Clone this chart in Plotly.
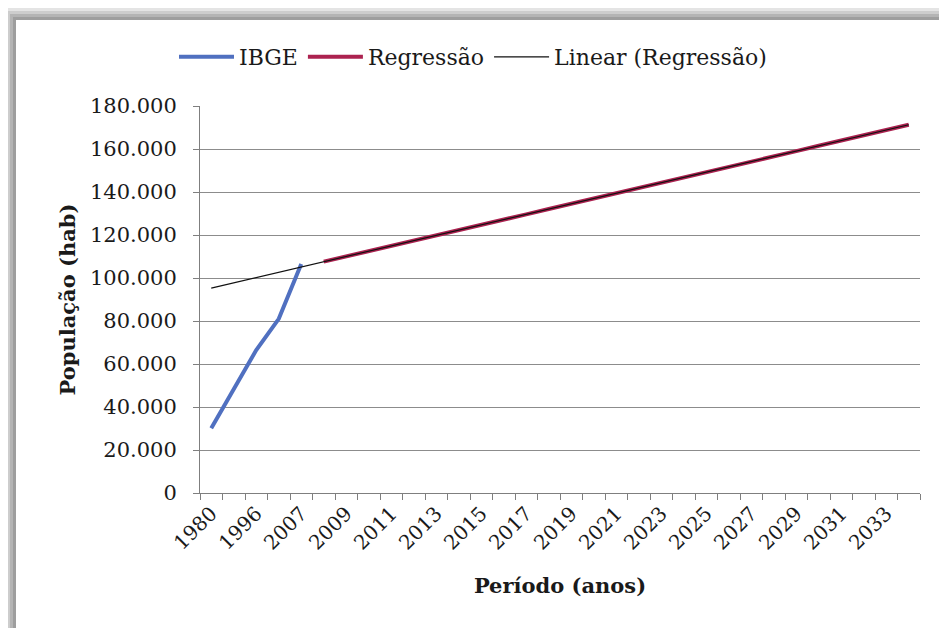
import numpy as np
import plotly.graph_objects as go

# category axis of the Excel chart (census years, then yearly projection)
years = ["1980", "1991", "1996", "2000", "2007"] + [str(y) for y in range(2008, 2035)]

ibge_years = ["1980", "1991", "1996", "2000", "2007"]
ibge_pop = [30100, 48200, 66500, 81000, 106500]

reg_years = [str(y) for y in range(2008, 2035)]
reg_pop = [107600, 110000, 112500, 114900, 117400, 119800, 122300, 124700,
           127200, 129600, 132100, 134500, 137000, 139400, 141900, 144300,
           146800, 149200, 151700, 154100, 156600, 159000, 161500, 163900,
           166400, 168800, 171300]

tick_labels = years[::2]

pos = {y: i for i, y in enumerate(years)}
ibge_x = [pos[y] for y in ibge_years]
reg_x = [pos[y] for y in reg_years]

# Excel linear trendline of the Regressão series, extended over all categories
slope, icpt = np.polyfit(reg_x, reg_pop, 1)
all_x = list(range(len(years)))
trend = [slope * x + icpt for x in all_x]

# the page body adds an 8px offset, so the figure is 8px smaller and shifted
W, H = 939, 620
L, R, T, B = 192, 27, 98, 135
PW, PH = W - L - R, H - T - B


def px_x(v):
    return (v - L) / PW


def px_y(v):
    return (H - B - v) / PH


fig = go.Figure()
fig.add_trace(go.Scatter(x=ibge_x, y=ibge_pop, mode="lines", name="IBGE",
                         line=dict(color="#5070C0", width=4)))
fig.add_trace(go.Scatter(x=reg_x, y=reg_pop, mode="lines", name="Regressão",
                         line=dict(color="#AC2250", width=4)))
fig.add_trace(go.Scatter(x=all_x, y=trend, mode="lines", name="Linear (Regressão)",
                         line=dict(color="#111111", width=1.2)))

# grey shadow frame (top and left)
shapes = []
greys = ["#e4e4e4", "#cdcdcd", "#b4b4b4", "#9e9e9e"]
for i, c in enumerate(greys):
    shapes.append(dict(type="rect", xref="paper", yref="paper", layer="below",
                       x0=px_x(0), x1=px_x(W), y0=px_y(3 * i), y1=px_y(3 + 3 * i),
                       fillcolor=c, line=dict(width=0)))
for i, c in enumerate(greys):
    shapes.append(dict(type="rect", xref="paper", yref="paper", layer="below",
                       x0=px_x(max(0, -4 + 3 * i)), x1=px_x(-1 + 3 * i), y0=px_y(H), y1=px_y(3 * i),
                       fillcolor=c, line=dict(width=0)))

font = "DejaVu Serif"
fig.update_layout(
    width=W, height=H,
    margin=dict(l=L, r=R, t=T, b=B, autoexpand=False),
    paper_bgcolor="white", plot_bgcolor="white",
    font=dict(family=font, size=21, color="#1a1a1a"),
    separators=",.",
    showlegend=True,
    legend=dict(orientation="h", x=px_x(166), xanchor="left", y=px_y(49), yanchor="middle",
                font=dict(family=font, size=22), itemwidth=55, tracegroupgap=0),
    shapes=shapes,
    xaxis=dict(
        range=[-0.5, len(years) - 0.5],
        tickmode="array", tickvals=all_x[::2], ticktext=tick_labels,
        tickangle=-45, ticks="", showgrid=False, zeroline=False,
        showline=True, linecolor="#7f7f7f", linewidth=1,
        minor=dict(ticks="outside", tick0=-0.5, dtick=1, ticklen=6, tickcolor="#7f7f7f", showgrid=False),
        title=dict(text="<b>Período (anos)</b>", font=dict(family=font, size=21), standoff=24),
        tickfont=dict(family=font, size=20), automargin=False,
    ),
    yaxis=dict(
        range=[0, 180000], tickmode="linear", tick0=0, dtick=20000,
        tickformat=",d", ticks="outside", ticklen=6, tickcolor="#7f7f7f",
        ticklabelstandoff=12,
        showgrid=True, gridcolor="#8c8c8c", gridwidth=1, zeroline=False,
        showline=True, linecolor="#7f7f7f", linewidth=1,
        title=dict(text="<b>População (hab)</b>", font=dict(family=font, size=21), standoff=8),
        tickfont=dict(family=font, size=21), automargin=False,
    ),
)

fig.write_html("out.html")
